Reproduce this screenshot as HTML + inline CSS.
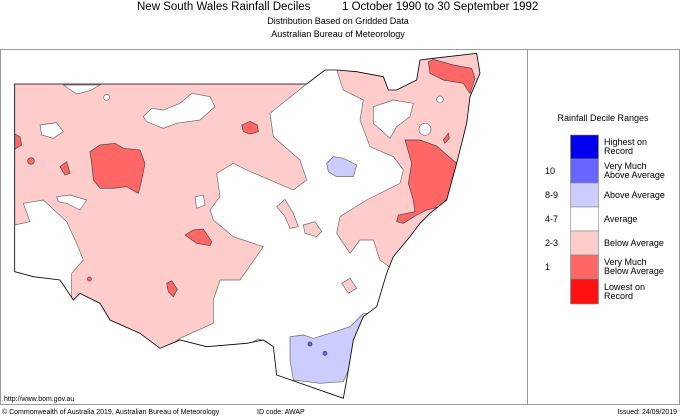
<!DOCTYPE html>
<html><head><meta charset="utf-8"><style>
html,body{margin:0;padding:0;background:#fff;width:680px;height:419px;overflow:hidden;font-family:"Liberation Sans",Arial,sans-serif}
svg{display:block}
</style></head><body>
<svg width="680" height="419" viewBox="0 0 680 419" font-family="Liberation Sans, Arial, sans-serif">
<text x="137" y="10" font-size="11.5">New South Wales Rainfall Deciles</text>
<text x="342" y="10" font-size="11.5">1 October 1990 to 30 September 1992</text>
<text x="338" y="24" font-size="9" text-anchor="middle">Distribution Based on Gridded Data</text>
<text x="338" y="37" font-size="9" text-anchor="middle">Australian Bureau of Meteorology</text>
<rect x="0.5" y="49.5" width="679" height="355" fill="none" stroke="#999"/>
<line x1="527.5" y1="49" x2="527.5" y2="405" stroke="#999"/>
<defs><clipPath id="nsw"><path id="np" d="M44,132 L920,132 L975,90 L1010,90 L1070,95 L1150,110 L1165,150 L1190,150 L1250,120 L1260,60 L1300,55 L1430,40 L1440,100 L1410,170 L1400,250 L1370,370 L1340,480 L1290,520 L1260,550 L1230,590 L1180,650 L1160,700 L1130,800 L1090,830 L1060,900 L1050,960 L1040,1020 L1030,1075 L830,1005 L820,920 L790,900 L740,910 L620,920 L540,900 L480,925 L420,880 L330,840 L300,790 L240,760 L220,780 L180,720 L100,710 L44,695 Z"/></clipPath></defs>
<g transform="translate(0,40) scale(0.33333)">
<g clip-path="url(#nsw)">
<rect x="0" y="0" width="1600" height="1100" fill="#fff"/>
<path fill="#ffcccc" stroke="#666" stroke-width="2" d="M0,0 L920,0 L920,132 L810,220 L820,290 L900,360 L920,420 L880,450 L740,390 L700,370 L650,400 L660,470 L630,510 L640,540 L700,590 L790,620 L720,720 L660,720 L640,780 L640,850 L540,895 L480,940 L215,780 L215,700 L250,660 L230,610 L200,545 L130,480 L70,490 L90,545 L44,555 L0,560 Z"/>
<path fill="#ffcccc" stroke="#666" stroke-width="2" d="M1010,0 L1500,0 L1500,600 L1180,690 L1140,660 L1120,600 L1080,600 L1050,640 L1010,580 L1020,530 L1100,480 L1200,430 L1210,390 L1180,350 L1110,320 L1080,240 L1090,180 L1030,150 L1010,90 Z"/>
<path fill="#fff" stroke="#666" stroke-width="2" d="M1120,200 L1180,180 L1240,190 L1230,230 L1190,260 L1170,295 L1120,250 Z"/>
<path fill="#fff" stroke="#666" stroke-width="2" d="M190,135 L300,135 L270,152 L230,162 Z"/>
<path fill="#fff" stroke="#666" stroke-width="2" d="M430,230 L455,205 L490,210 L540,190 L575,160 L630,170 L645,200 L600,240 L530,250 L490,265 L440,245 Z"/>
<path fill="#fff" stroke="#666" stroke-width="2" d="M120,255 L170,248 L190,275 L160,295 L125,285 Z"/>
<path fill="#fff" stroke="#666" stroke-width="2" d="M170,470 L210,465 L260,480 L240,510 L200,490 L175,485 Z"/>
<path fill="#fff" stroke="#666" stroke-width="2" d="M585,470 L610,465 L615,495 L590,505 Z"/>
<circle cx="320" cy="172" r="9" fill="#fff" stroke="#666" stroke-width="2"/>
<circle cx="1275" cy="268" r="18" fill="#fff" stroke="#666" stroke-width="2"/>
<circle cx="1320" cy="178" r="10" fill="#fff" stroke="#666" stroke-width="2"/>
<path fill="#ffcccc" stroke="#666" stroke-width="2" d="M830,500 L855,478 L880,520 L895,560 L870,565 L855,530 Z"/>
<path fill="#ffcccc" stroke="#666" stroke-width="2" d="M910,555 L945,545 L965,575 L950,590 L915,580 Z"/>
<path fill="#ffcccc" stroke="#666" stroke-width="2" d="M1025,730 L1050,715 L1070,745 L1045,760 Z"/>
<path fill="#ff6666" stroke="#444" stroke-width="2" d="M1285,65 L1300,58 L1360,75 L1415,85 L1425,115 L1410,160 L1390,130 L1330,120 L1290,100 Z"/>
<path fill="#ff6666" stroke="#444" stroke-width="2" d="M1215,300 L1260,300 L1310,318 L1370,370 L1345,470 L1320,500 L1280,510 L1250,525 L1210,550 L1190,545 L1195,525 L1245,515 L1240,480 L1225,430 L1235,370 Z"/>
<path fill="#ff6666" stroke="#444" stroke-width="2" d="M270,335 L300,315 L345,310 L370,325 L420,330 L435,370 L425,420 L415,460 L380,440 L340,445 L300,445 L280,420 L275,370 Z"/>
<path fill="#ff6666" stroke="#444" stroke-width="2" d="M555,585 L580,570 L610,567 L635,605 L630,617 L590,610 Z"/>
<path fill="#ff6666" stroke="#444" stroke-width="2" d="M725,255 L750,244 L772,255 L775,275 L750,282 L730,275 Z"/>
<path fill="#ff6666" stroke="#444" stroke-width="2" d="M500,730 L515,722 L532,748 L520,770 L505,755 Z"/>
<path fill="#ff6666" stroke="#444" stroke-width="2" d="M40,280 L60,290 L65,315 L40,330 Z"/>
<path fill="#ff6666" stroke="#444" stroke-width="2" d="M180,380 L200,365 L210,400 L195,405 Z"/>
<path fill="#ff6666" stroke="#444" stroke-width="2" d="M1330,300 L1345,280 L1348,295 L1335,310 Z"/>
<circle cx="93" cy="363" r="10" fill="#ff6666" stroke="#444" stroke-width="2"/>
<circle cx="268" cy="717" r="6" fill="#ff6666" stroke="#444" stroke-width="2"/>
<path fill="#ccccff" stroke="#666" stroke-width="2" d="M980,370 L1000,350 L1030,355 L1070,375 L1060,410 L1010,410 L985,395 Z"/>
<path fill="#ccccff" stroke="#666" stroke-width="2" d="M870,890 L910,885 L940,895 L990,880 L1050,860 L1090,820 L1110,820 L1080,880 L1060,920 L1050,980 L1030,1025 L960,1030 L880,1020 L870,960 Z"/>
<path fill="#ccccff" stroke="#666" stroke-width="2" d="M750,910 L775,897 L800,905 L790,915 Z"/>
<circle cx="930" cy="912" r="6" fill="#6666ff" stroke="#333" stroke-width="2"/>
<circle cx="975" cy="940" r="6" fill="#6666ff" stroke="#333" stroke-width="2"/>
</g>
<use href="#np" fill="none" stroke="#000" stroke-width="2.5"/>
</g>
<text x="603" y="121" font-size="9" text-anchor="middle">Rainfall Decile Ranges</text>
<g stroke="#888" stroke-width="0.6">
<rect x="570.5" y="135" width="28" height="24" fill="#0000ee"/>
<rect x="570.5" y="159" width="28" height="24" fill="#6666ff"/>
<rect x="570.5" y="183" width="28" height="24" fill="#ccccff"/>
<rect x="570.5" y="207" width="28" height="24" fill="#ffffff"/>
<rect x="570.5" y="231" width="28" height="24" fill="#ffcccc"/>
<rect x="570.5" y="255" width="28" height="24" fill="#ff6666"/>
<rect x="570.5" y="279" width="28" height="25" fill="#ff1111"/>
</g>
<g font-size="9">
<text x="604" y="145">Highest on</text><text x="604" y="154">Record</text>
<text x="604" y="169">Very Much</text><text x="604" y="178">Above Average</text>
<text x="604" y="198">Above Average</text>
<text x="604" y="222">Average</text>
<text x="604" y="246">Below Average</text>
<text x="604" y="265">Very Much</text><text x="604" y="274">Below Average</text>
<text x="604" y="290">Lowest on</text><text x="604" y="299">Record</text>
<text x="545" y="174">10</text>
<text x="545" y="198">8-9</text>
<text x="545" y="222">4-7</text>
<text x="545" y="246">2-3</text>
<text x="545" y="270">1</text>
</g>
<text x="4" y="401" font-size="7">http://www.bom.gov.au</text>
<text x="2" y="414" font-size="7">© Commonwealth of Australia 2019, Australian Bureau of Meteorology</text>
<text x="257" y="414" font-size="7">ID code: AWAP</text>
<text x="677" y="414" font-size="7" text-anchor="end">Issued: 24/09/2019</text>
</svg>
</body></html>
